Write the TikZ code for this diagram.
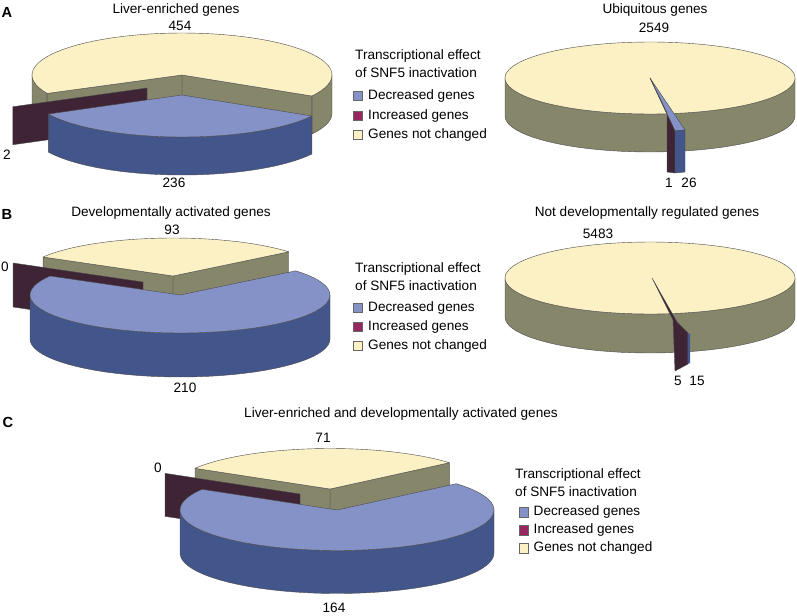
\documentclass[tikz,border=0pt]{standalone}
\usepackage{fontspec}
\setmainfont{Liberation Sans}
\usepackage{tikz}

\definecolor{nonTop}{RGB}{252,241,196}
\definecolor{nonSide}{RGB}{134,134,107}
\definecolor{decTop}{RGB}{132,146,199}
\definecolor{decSide}{RGB}{66,86,140}
\definecolor{incFace}{RGB}{62,36,52}
\definecolor{keyInc}{RGB}{150,40,95}

% pie geometry: centre x, centre y, x radius, y radius, height
\newcommand{\setpie}[5]{\def\pcx{#1}\def\pcy{#2}\def\prx{#3}\def\pry{#4}\def\ph{#5}}
\newcommand{\pietop}[3]{\filldraw[pieedge, fill=#3] (\pcx,\pcy) -- plot[domain=#1:#2, samples=60] ({\pcx+\prx*cos(\x)},{\pcy-\pry*sin(\x)}) -- cycle;}
\newcommand{\pieside}[3]{\filldraw[pieedge, fill=#3] plot[domain=#1:#2, samples=40] ({\pcx+\prx*cos(\x)},{\pcy-\pry*sin(\x)}) -- plot[domain=#2:#1, samples=40] ({\pcx+\prx*cos(\x)},{\pcy+\ph-\pry*sin(\x)}) -- cycle;}
\newcommand{\pieface}[2]{\filldraw[pieedge, fill=#2] (\pcx,\pcy) -- ({\pcx+\prx*cos(#1)},{\pcy-\pry*sin(#1)}) -- ++(0,\ph) -- (\pcx,{\pcy+\ph}) -- cycle;}
\newcommand{\piedisc}[1]{\filldraw[pieedge, fill=#1] plot[domain=0:360, samples=100] ({\pcx+\prx*cos(\x)},{\pcy-\pry*sin(\x)}) -- cycle;}

% legend: name, title x, title y, box x, first item y, item step
\newcommand{\effectkey}[6]{%
  \node[lbl, anchor=west] (#1h1) at (#2,#3) {Transcriptional effect};
  \node[lbl, anchor=west] (#1h2) at (#2,{#3+17}) {of SNF5 inactivation};
  \foreach \kc/\kt [count=\k from 0] in {decTop/Decreased genes, keyInc/Increased genes, nonTop/Genes not changed}{
    \node[keybox, fill=\kc] (#1b\k) at (#4,{#5+\k*#6}) {};
    \node[lbl, anchor=west] (#1i\k) at ({#4+10},{#5+\k*#6}) {\kt};
  }%
}

\begin{document}
\begin{tikzpicture}[x=0.03cm, y=-0.03cm,
    pieedge/.style={draw=black!70, line width=0.35pt, line join=round},
    lbl/.style={font=\fontsize{11.6}{13.5}\selectfont, inner sep=0pt},
    panel/.style={font=\fontsize{12.5}{14}\selectfont\bfseries, inner sep=0pt},
    keybox/.style={draw=black!60, line width=0.3pt, minimum size=0.28cm, inner sep=0pt}]
  \useasboundingbox (0,0) rectangle (797,615);

  % A, liver-enriched genes
  \setpie{182}{75}{150}{42}{38}
  \pieside{180}{206}{nonSide}
  \pieside{-30}{0}{nonSide}
  \pieface{-30}{nonSide}
  \pieface{206}{nonSide}
  \pietop{-30}{206}{nonTop}
  \begin{scope}[shift={(-35,13)}]
    \pieface{206.5}{incFace}
  \end{scope}
  \begin{scope}[shift={(0,20)}]
    \pieside{207}{330}{decSide}
    \pietop{207}{330}{decTop}
  \end{scope}

  % A, ubiquitous genes
  \setpie{650}{78}{145}{36}{38}
  \pieside{180}{360}{nonSide}
  \piedisc{nonTop}
  \filldraw[pieedge, fill=decTop] (650,78) -- (685,130) -- (675,131) -- cycle;
  \filldraw[pieedge, fill=incFace] (650,78) -- (675,131) -- (675,173) -- (667,172) -- (667,113) -- cycle;
  \filldraw[pieedge, fill=decSide] (675,131) -- (685,130) -- (685,172) -- (675,173) -- cycle;

  % B, developmentally activated genes
  \setpie{173}{276}{150}{38}{44}
  \pieface{39.5}{nonSide}
  \pieface{150}{nonSide}
  \pietop{39.5}{150}{nonTop}
  \begin{scope}[shift={(-30,6)}]
    \pieface{150}{incFace}
  \end{scope}
  \begin{scope}[shift={(7,19)}]
    \pieside{180}{360}{decSide}
    \pietop{150}{399.5}{decTop}
  \end{scope}

  % B, not developmentally regulated genes
  \setpie{650}{278}{145}{36}{39}
  \pieside{180}{360}{nonSide}
  \piedisc{nonTop}
  \filldraw[pieedge, fill=incFace] (652,278) -- (677,322) -- (688,333) -- (688,364) -- (675,371) -- (673,320) -- cycle;
  \fill[decSide] (687.5,333) -- (690,334) -- (690,363) -- (687.5,364) -- cycle;

  % C, liver-enriched and developmentally activated genes
  \setpie{330}{489}{157}{40.5}{43}
  \pieface{40.5}{nonSide}
  \pieface{149.3}{nonSide}
  \pietop{40.5}{149.3}{nonTop}
  \begin{scope}[shift={(-30,5)}]
    \pieface{149.3}{incFace}
  \end{scope}
  \begin{scope}[shift={(7,21)}]
    \pieside{180}{360}{decSide}
    \pietop{149.3}{400.5}{decTop}
  \end{scope}

  % panel letters
  \node[panel] (pA) at (7,12) {A};
  \node[panel] (pB) at (7,214) {B};
  \node[panel] (pC) at (8,422) {C};

  % titles and counts
  \node[lbl] (ttlLiver) at (176,10) {Liver-enriched genes};
  \node[lbl] (nLiverNon) at (180,26) {454};
  \node[lbl] (nLiverDec) at (174,183) {236};
  \node[lbl] (nLiverInc) at (7,155) {2};

  \node[lbl] (ttlUbiq) at (655,10) {Ubiquitous genes};
  \node[lbl] (nUbiqNon) at (654,28) {2549};
  \node[lbl] (nUbiqInc) at (669,183) {1};
  \node[lbl] (nUbiqDec) at (689,183) {26};

  \node[lbl] (ttlDev) at (171,213) {Developmentally activated genes};
  \node[lbl] (nDevNon) at (172,230) {93};
  \node[lbl] (nDevDec) at (185,388) {210};
  \node[lbl] (nDevInc) at (5,267) {0};

  \node[lbl] (ttlNotDev) at (647,213) {Not developmentally regulated genes};
  \node[lbl] (nNotDevNon) at (598,234) {5483};
  \node[lbl] (nNotDevInc) at (678,381) {5};
  \node[lbl] (nNotDevDec) at (697,381) {15};

  \node[lbl] (ttlBoth) at (401,414) {Liver-enriched and developmentally activated genes};
  \node[lbl] (nBothNon) at (323,438) {71};
  \node[lbl] (nBothDec) at (334,608) {164};
  \node[lbl] (nBothInc) at (158,468) {0};

  % legends
  \effectkey{kA}{355}{56}{358}{96}{19.5}
  \effectkey{kB}{355}{269}{358}{308}{19}
  \effectkey{kC}{515}{475}{523.5}{512}{18}
\end{tikzpicture}
\end{document}
